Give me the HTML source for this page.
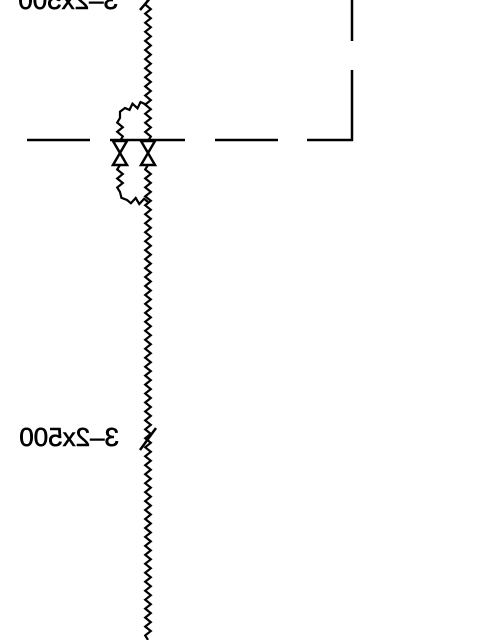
<!DOCTYPE html>
<html><head><meta charset="utf-8"><style>
html,body{margin:0;padding:0;background:#fff;width:480px;height:640px;overflow:hidden}
</style></head><body>
<svg id="dwg" width="480" height="640" viewBox="0 0 480 640" xmlns="http://www.w3.org/2000/svg">
<g stroke="#000" stroke-width="2.5" fill="none" stroke-linecap="butt">
<line x1="27" y1="140" x2="90" y2="140"/>
<line x1="110" y1="140" x2="185" y2="140"/>
<line x1="215" y1="140" x2="278" y2="140"/>
<line x1="307" y1="140" x2="353" y2="140"/>
<line x1="352" y1="0" x2="352" y2="41"/>
<line x1="352" y1="70" x2="352" y2="141"/>
<path d="M113 141 L127 141 L113 165 L127 165 Z"/>
<path d="M141 141 L155 141 L141 165 L155 165 Z"/>
<line x1="140" y1="10" x2="152" y2="-4"/>
<line x1="140" y1="450" x2="156" y2="428"/>
</g>
<g id="waves" stroke="#000" stroke-width="2.2" fill="none"></g>
<text transform="translate(118,0) scale(-1,1)" x="0" y="9" font-family="Liberation Sans, sans-serif" font-size="26" stroke="#000" stroke-width="0.6">3–2x500</text>
<text transform="translate(119,0) scale(-1,1)" x="0" y="446" font-family="Liberation Sans, sans-serif" font-size="26" stroke="#000" stroke-width="0.6">3–2x500</text>
</svg>
<script>
const g=document.getElementById('waves');
function wave(pts,name){
  let d='';
  for(let s=0;s<pts.length-1;s++){
    const [x1,y1]=pts[s],[x2,y2]=pts[s+1];
    const L=Math.hypot(x2-x1,y2-y1),ux=(x2-x1)/L,uy=(y2-y1)/L,nx=-uy,ny=ux;
    const n=Math.max(2,Math.round(L/4.5));
    for(let i=0;i<=n;i++){
      const t=i/n*L,a=(i%2?2.8:-2.8)*(i==0||i==n?0:1);
      const x=x1+ux*t+nx*a,y=y1+uy*t+ny*a;
      d+=(d?'L':'M')+x.toFixed(1)+' '+y.toFixed(1);
    }
  }
  const p=document.createElementNS('http://www.w3.org/2000/svg','path');
  p.setAttribute('d',d);
  
  
  g.appendChild(p);
}
wave([[148,0],[148,141]],'pipe-upper');
wave([[148,165],[148,640]],'pipe-lower');
wave([[145,104],[125,108],[120,118],[120,141]],'bypass-upper');
wave([[120,165],[120,192],[127,200],[148,202]],'bypass-lower');
</script>
</body></html>
